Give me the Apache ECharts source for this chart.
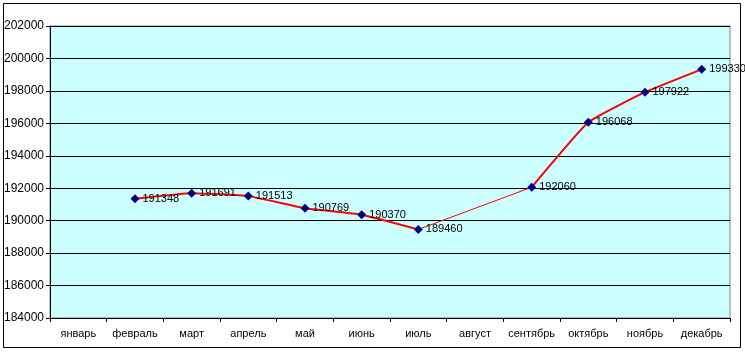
<!DOCTYPE html>
<html>
<head>
<meta charset="utf-8">
<script src="https://cdn.jsdelivr.net/npm/echarts@6/dist/echarts.min.js"></script>
<style>
  html, body { margin: 0; padding: 0; background: #fff; }
  #chart { width: 745px; height: 353px; }
</style>
</head>
<body>
<div id="chart"></div>
<script>
const months = ['январь', 'февраль', 'март', 'апрель', 'май', 'июнь',
  'июль', 'август', 'сентябрь', 'октябрь', 'ноябрь', 'декабрь']
// август has no value; Excel joins июль–сентябрь with a thin line
const values = [null, 191348, 191691, 191513, 190769, 190370,
  189460, null, 192060, 196068, 197922, 199330]
const gapValues = [null, null, null, null, null, null,
  189460, null, 192060, null, null, null]

const chart = echarts.init(document.getElementById('chart'))

chart.setOption({
  animation: false,
  textStyle: { fontFamily: 'Liberation Sans, Arial, sans-serif' },
  graphic: [{
    type: 'rect',
    shape: { x: 3.5, y: 3.5, width: 737, height: 344 },
    style: { fill: null, stroke: '#000', lineWidth: 1 },
    z: -1
  }],
  grid: {
    left: 50,
    right: 15,
    top: 26,
    bottom: 35,
    show: true,
    backgroundColor: '#ccffff',
    borderColor: '#808080',
    borderWidth: 1
  },
  xAxis: {
    type: 'category',
    data: months,
    boundaryGap: true,
    axisLine: { lineStyle: { color: '#000', width: 1 } },
    axisTick: { show: true, alignWithLabel: false, length: 4, lineStyle: { color: '#000' } },
    axisLabel: { color: '#000', fontSize: 11, margin: 10, interval: 0 }
  },
  yAxis: {
    type: 'value',
    min: 184000,
    max: 202000,
    interval: 2000,
    axisLine: { show: true, lineStyle: { color: '#000', width: 1 } },
    axisTick: { show: true, length: 4, lineStyle: { color: '#000' } },
    axisLabel: { color: '#000', fontSize: 12, margin: 6, formatter: v => String(v) },
    splitLine: { lineStyle: { color: '#000', width: 1 } }
  },
  series: [
    {
      type: 'line',
      data: gapValues,
      connectNulls: true,
      symbol: 'none',
      lineStyle: { color: '#ff0000', width: 1 },
      z: 2
    },
    {
      type: 'line',
      data: values,
      smooth: 0.12,
      connectNulls: false,
      symbol: 'diamond',
      symbolSize: 9,
      itemStyle: { color: '#000080' },
      lineStyle: { color: '#ff0000', width: 2 },
      label: {
        show: true,
        position: 'right',
        distance: 3,
        color: '#000',
        fontSize: 11,
        formatter: p => String(p.value)
      },
      z: 3
    }
  ]
})
</script>
</body>
</html>
